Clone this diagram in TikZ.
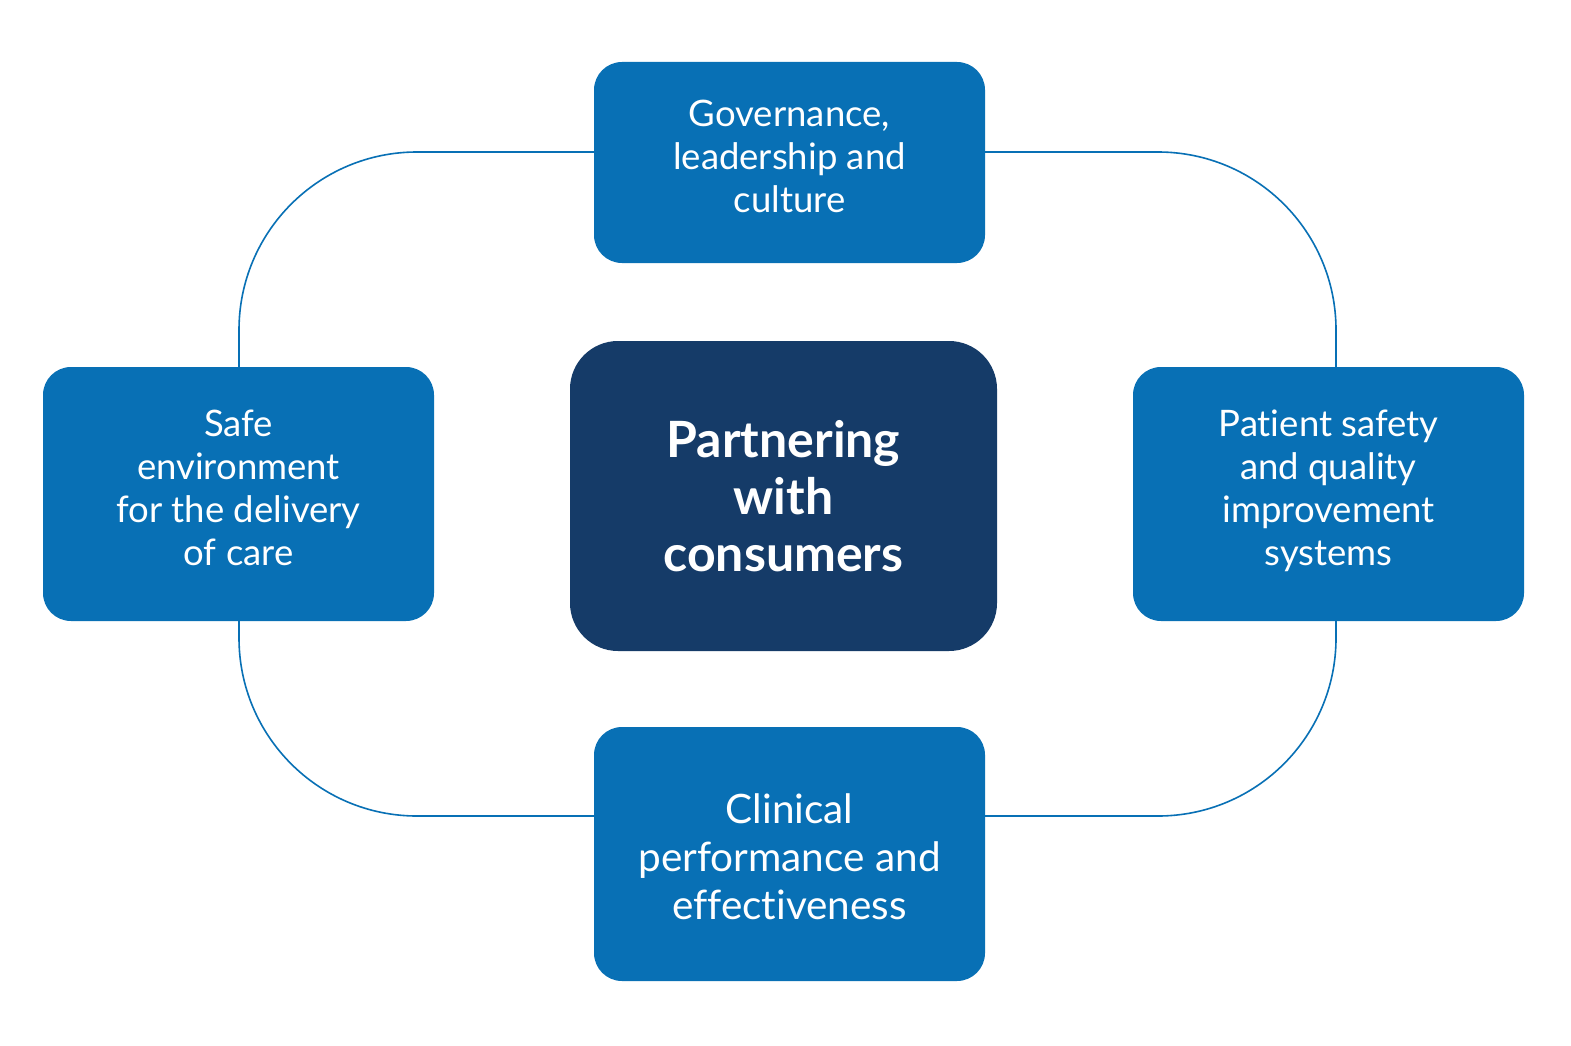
\documentclass[tikz,border=0pt]{standalone}
\usepackage{fontspec}
\setmainfont{Lato}[RawFeature={-liga;-dlig;-clig}]
\definecolor{boxblue}{HTML}{0870B5}
\definecolor{navy}{HTML}{153B68}
\newcommand{\boxtext}[2]{\smash{\raisebox{#1}{\begin{tabular}{@{}c@{}}#2\end{tabular}}}}
\begin{document}
\begin{tikzpicture}[x=1pt,y=-1pt,
  pillar/.style={fill=boxblue, rounded corners=28pt, text=white, align=center,
    minimum width=391pt, inner sep=0pt, font=\fontsize{36.5}{43}\selectfont},
  hub/.style={fill=navy, rounded corners=48pt, text=white, align=center,
    minimum width=427pt, minimum height=310pt, inner sep=0pt,
    font=\bfseries\fontsize{50}{57}\selectfont},
  loop/.style={draw=boxblue, line width=1.6pt, rounded corners=178pt}]
\useasboundingbox (0,0) rectangle (1571,1046);
\fill[white] (0,0) rectangle (1571,1046);
\draw[loop] (239,152) rectangle (1336,816);
\node[pillar, minimum height=201pt] (gov) at (789.5,162.5) {\boxtext{-5pt}{Governance,\\leadership and\\culture}};
\node[pillar, minimum height=254pt] (safe) at (238.5,494) {\boxtext{-5pt}{Safe\\environment\\for the delivery\\of care}};
\node[pillar, minimum height=254pt] (pat) at (1328.5,494) {\boxtext{-5pt}{Patient safety\\and quality\\improvement\\systems}};
\node[pillar, minimum height=254pt, font=\fontsize{40.5}{48}\selectfont] (clin) at (789.5,854) {\boxtext{-14pt}{Clinical\\performance and\\effectiveness}};
\node[hub] (hubn) at (783.5,496) {Partnering\\with\\consumers};
\end{tikzpicture}
\end{document}
